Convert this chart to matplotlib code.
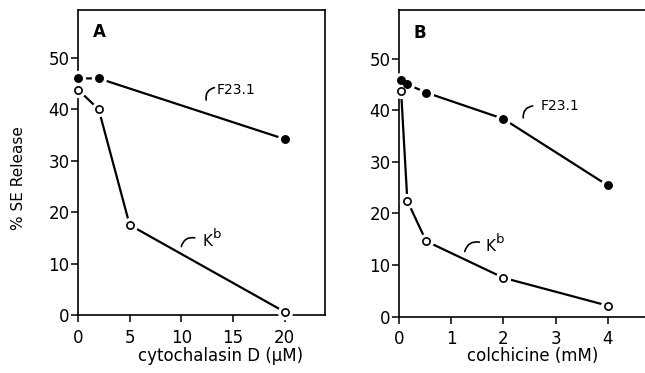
import numpy as np
import matplotlib
matplotlib.use('Agg')
import matplotlib.pyplot as plt

# panel A: cytochalasin D (uM)
cyto_x = [0, 2, 5, 20]
cyto_f23 = [46.0, 46.0, None, 34.2]
cyto_kb = [43.8, 40.0, 17.5, 0.6]

# panel B: colchicine (mM)
colch_x = [0.04, 0.16, 0.52, 2, 4]
colch_f23 = [45.9, 45.0, 43.4, 38.3, 25.4]
colch_kb = [43.7, 22.4, 14.6, 7.5, 2.1]

W, H = 645, 373
plt.rcParams['font.family'] = ['DejaVu Sans']
fig = plt.figure(figsize=(W / 100, H / 100), dpi=100)

def px(x0, y0, x1, y1):
    return [x0 / W, 1 - y1 / H, (x1 - x0) / W, (y1 - y0) / H]

axA = fig.add_axes(px(78, 10, 325, 315))
axB = fig.add_axes(px(399, 10, 660, 316.5))

def series(ax, x, y, filled):
    pts = [(a, b) for a, b in zip(x, y) if b is not None]
    xs = [p[0] for p in pts]
    ys = [p[1] for p in pts]
    ax.plot(xs, ys, color='black', lw=1.6, zorder=2, clip_on=False)
    ax.plot(xs, ys, ls='none', marker='o', ms=10, mfc='white', mec='white',
            zorder=3, clip_on=False)
    ax.plot(xs, ys, ls='none', marker='o', ms=5.2,
            mfc='black' if filled else 'white', mec='black', mew=1.2,
            zorder=4, clip_on=False)

def hook(ax, start, end):
    ax.annotate('', xy=end, xytext=start,
                arrowprops=dict(arrowstyle='-', lw=1.2, color='black',
                                connectionstyle='arc3,rad=-0.45',
                                shrinkA=0, shrinkB=0))

def kb(ax, x, y):
    ax.text(x, y, 'K', fontsize=11, va='center', ha='left')
    ax.annotate('b', xy=(x, y), xytext=(8, 5), textcoords='offset points',
                fontsize=9.5, va='center', ha='left')

series(axA, cyto_x, cyto_f23, True)
series(axA, cyto_x, cyto_kb, False)
series(axB, colch_x, colch_f23, True)
series(axB, colch_x, colch_kb, False)

axA.set_xlim(0, 23.9)
axA.set_ylim(0, 59.3)
axA.set_xticks([0, 5, 10, 15, 20])
axB.set_xlim(0, 5.0)
axB.set_ylim(0, 59.4)
axB.set_xticks([0, 1, 2, 3, 4])

for ax in (axA, axB):
    ax.set_yticks([0, 10, 20, 30, 40, 50])
    ax.tick_params(direction='out', length=5, width=1.1, labelsize=12,
                   color='black')
    ax.tick_params(axis='y', pad=1)
    ax.tick_params(axis='x', pad=5)
    for s in ax.spines.values():
        s.set_linewidth(1.2)

# labels on lines
axA.text(13.4, 43.8, 'F23.1', fontsize=10, va='center', ha='left')
hook(axA, (12.4, 41.8), (13.2, 44.2))
kb(axA, 12.0, 14.3)
hook(axA, (10.0, 13.3), (11.3, 15.0))

axB.text(2.71, 40.7, 'F23.1', fontsize=10, va='center', ha='left')
hook(axB, (2.38, 38.5), (2.56, 40.8))
kb(axB, 1.65, 13.6)
hook(axB, (1.26, 12.6), (1.54, 14.4))

axA.text(1.4, 55.0, 'A', fontsize=12, fontweight='bold', va='center')
axB.text(0.27, 55.0, 'B', fontsize=12, fontweight='bold', va='center')

fig.text(19 / W, 1 - 178 / H, '% SE Release', rotation=90, fontsize=11,
         ha='center', va='center')
fig.text(221 / W, 1 - 356 / H, 'cytochalasin D (\u00b5M)', fontsize=12,
         ha='center', va='center')
fig.text(533 / W, 1 - 356 / H, 'colchicine (mM)', fontsize=12,
         ha='center', va='center')

fig.savefig('out.png', dpi=100)
